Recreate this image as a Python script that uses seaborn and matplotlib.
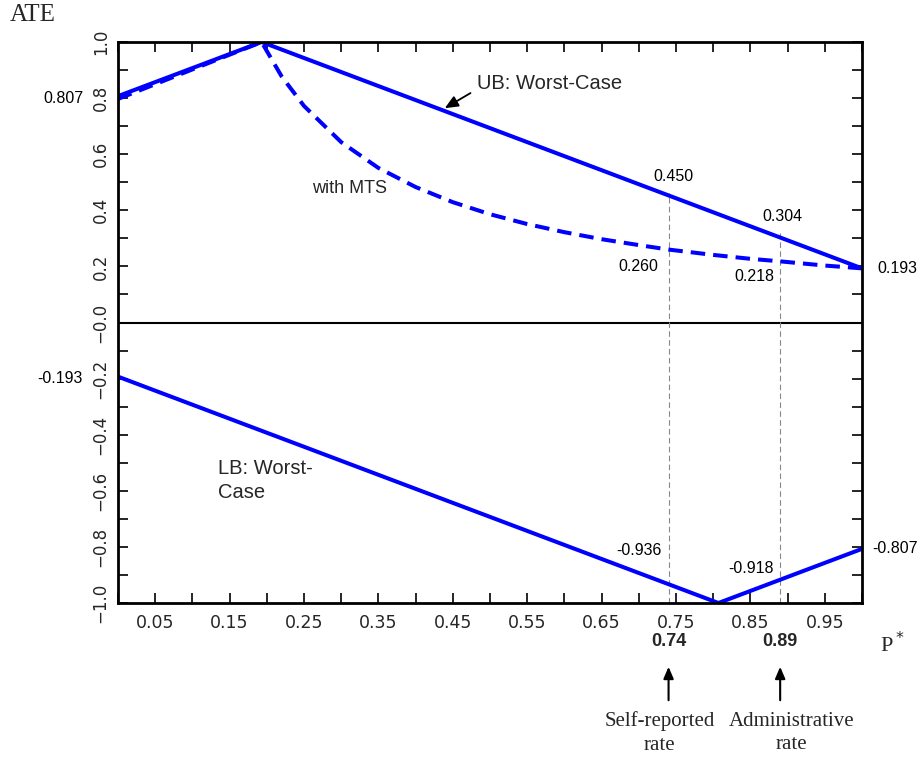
import matplotlib
matplotlib.use("Agg")
import matplotlib.pyplot as plt
import seaborn as sns
import pandas as pd
import numpy as np

# ---- data ----
ub_x = [0.0, 0.193, 1.0]
ub_y = [0.807, 1.0, 0.193]
mts_x = [0.0, 0.193, 0.22, 0.25, 0.30, 0.35, 0.40, 0.45, 0.50, 0.55, 0.60,
         0.65, 0.70, 0.74, 0.80, 0.85, 0.89, 0.95, 1.00]
mts_y = [0.797, 1.000, 0.877, 0.772, 0.643, 0.551, 0.483, 0.429, 0.386, 0.351,
         0.322, 0.297, 0.276, 0.260, 0.241, 0.227, 0.218, 0.203, 0.193]
lb_x = [0.0, 0.807, 1.0]
lb_y = [-0.193, -1.0, -0.807]
ref_x = [0.74, 0.89]
ref_top = [0.46, 0.32]
ref_labels = ["0.74", "0.89"]
ref_names = ["Self-reported\nrate", "Administrative\nrate"]
xticks_major = [0.05, 0.15, 0.25, 0.35, 0.45, 0.55, 0.65, 0.75, 0.85, 0.95]
xtick_labels = ["0.05", "0.15", "0.25", "0.35", "0.45", "0.55", "0.65", "0.75", "0.85", "0.95"]
yticks_lab = [-1.0, -0.8, -0.6, -0.4, -0.2, 0.0, 0.2, 0.4, 0.6, 0.8, 1.0]
ytick_labels = ["\u22121.0", "\u22120.8", "\u22120.6", "\u22120.4", "\u22120.2", "\u22120.0",
                "0.2", "0.4", "0.6", "0.8", "1.0"]

sns.set_style("white")
plt.rcParams["font.family"] = ["DejaVu Sans"]

fig = plt.figure(figsize=(9.19, 7.57), dpi=100)
ax = fig.add_axes([118 / 919, 154 / 757, 744 / 919, 561 / 757])

blue = "#0000ff"
sns.lineplot(data=pd.DataFrame({"x": ub_x, "y": ub_y}), x="x", y="y", sort=False,
             ax=ax, color=blue, lw=2.9, estimator=None)
sns.lineplot(data=pd.DataFrame({"x": mts_x, "y": mts_y}), x="x", y="y", sort=False,
             ax=ax, color=blue, lw=2.9, estimator=None)
ax.lines[-1].set_dashes((3.6, 2.0))
sns.lineplot(data=pd.DataFrame({"x": lb_x, "y": lb_y}), x="x", y="y", sort=False,
             ax=ax, color=blue, lw=2.9, estimator=None)

ax.axhline(0, color="black", lw=1.5, zorder=1)
ax.vlines(ref_x, [-1, -1], ref_top, colors="#888888", lw=0.8,
          linestyles=(0, (5, 3)), zorder=1)

ax.set_xlim(0, 1)
ax.set_ylim(-1, 1)
ax.set_xlabel("")
ax.set_ylabel("")

ax.set_xticks(np.arange(0, 1.0001, 0.05), minor=True)
ax.set_xticks(xticks_major)
ax.set_xticklabels(xtick_labels, fontsize=12.5)
ax.set_yticks(np.arange(-1, 1.0001, 0.1), minor=True)
ax.set_yticks(yticks_lab)
ax.set_yticklabels(ytick_labels, fontsize=12, rotation=90, va="center")
ax.tick_params(which="both", direction="in", length=7, width=1.2, color="black",
               top=True, right=True, bottom=True, left=True)
ax.tick_params(axis="x", which="major", pad=8)
ax.tick_params(axis="y", which="major", pad=6)
for s in ax.spines.values():
    s.set_visible(True)
    s.set_color("black")
    s.set_linewidth(2)

tk = dict(fontsize=11.5, family="Liberation Sans", color="black", clip_on=False)
ax.text(-0.047, 0.80, "0.807", ha="right", va="center", **tk)
ax.text(-0.047, -0.20, "-0.193", ha="right", va="center", **tk)
ax.text(1.020, 0.193, "0.193", ha="left", va="center", **tk)
ax.text(1.014, -0.806, "-0.807", ha="left", va="center", **tk)
ax.text(0.747, 0.52, "0.450", ha="center", va="center", **tk)
ax.text(0.893, 0.378, "0.304", ha="center", va="center", **tk)
ax.text(0.700, 0.20, "0.260", ha="center", va="center", **tk)
ax.text(0.855, 0.164, "0.218", ha="center", va="center", **tk)
ax.text(0.700, -0.813, "-0.936", ha="center", va="center", **tk)
ax.text(0.851, -0.877, "-0.918", ha="center", va="center", **tk)
ax.text(0.311, 0.478, "with MTS", ha="center", va="center", fontsize=13,
        family="Liberation Sans")
ax.text(0.483, 0.852, "UB: Worst-Case", ha="left", va="center",
        fontsize=14.5, family="Liberation Sans")
ax.text(0.134, -0.563, "LB: Worst-\nCase", ha="left", va="center",
        fontsize=14.5, family="Liberation Sans", linespacing=1.3)
ax.annotate("", xy=(0.436, 0.759), xytext=(0.477, 0.823),
            arrowprops=dict(arrowstyle="-|>,head_length=0.8,head_width=0.35",
                            color="black", lw=1.3))

# below-axis annotations (figure pixel coordinates)
def fx(px):
    return px / 919
def fy(py):
    return 1 - py / 757

for xv, lab, name in zip(ref_x, ref_labels, ref_names):
    xp = 118 + xv * 744
    fig.text(fx(xp), fy(641), lab, ha="center", va="center", fontsize=13,
             fontweight="bold", family="Liberation Sans")
    fig.text(fx(xp) - 0.010 * (xv < 0.8) + 0.012 * (xv > 0.8), fy(733), name,
             ha="center", va="center", fontsize=15, family="Liberation Serif",
             linespacing=1.3)
    ax.annotate("", xy=(xp, 757 - 664), xytext=(xp, 757 - 703),
                xycoords="figure pixels", textcoords="figure pixels",
                arrowprops=dict(arrowstyle="-|>,head_length=0.7,head_width=0.3",
                                color="black", lw=1.5))

fig.text(fx(10), fy(15), "ATE", ha="left", va="center", fontsize=18,
         family="Liberation Serif")
fig.text(fx(880), fy(645), "P$^*$", ha="left", va="center", fontsize=16,
         family="Liberation Serif")

fig.savefig("out.png", dpi=100)
